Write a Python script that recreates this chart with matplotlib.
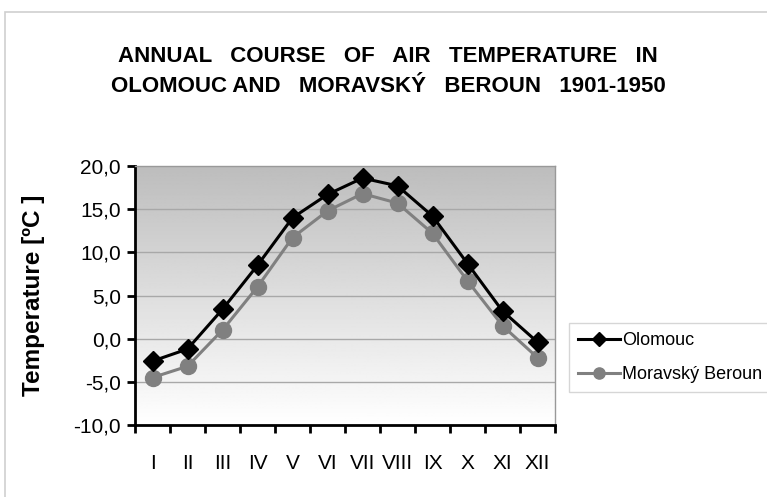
import matplotlib
matplotlib.use("Agg")
import matplotlib.pyplot as plt
import numpy as np
from matplotlib.patches import Rectangle

months = ["I", "II", "III", "IV", "V", "VI", "VII", "VIII", "IX", "X", "XI", "XII"]
olomouc = [-2.6, -1.2, 3.4, 8.5, 14.0, 16.7, 18.6, 17.7, 14.2, 8.7, 3.2, -0.4]
beroun = [-4.5, -3.2, 1.0, 6.0, 11.7, 14.8, 16.8, 15.7, 12.2, 6.7, 1.5, -2.2]
yticks = [-10, -5, 0, 5, 10, 15, 20]

plt.rcParams['font.family'] = ['Liberation Sans', 'DejaVu Sans']

fig = plt.figure(figsize=(7.67, 4.97), dpi=100)
W, H = 767, 497

# outer chart border
fig.patches.append(Rectangle((5 / W, -0.1), 1.2, 1 - 12 / H + 0.1, transform=fig.transFigure,
                             fill=False, edgecolor='#cfcfcf', linewidth=1.2))

ax = fig.add_axes([135 / W, 1 - 425 / H, (555 - 135) / W, (425 - 166) / H])

x = np.arange(1, len(months) + 1)
ax.set_xlim(0.5, 12.5)
ax.set_ylim(-10, 20)

# gradient background
grad = np.linspace(1.0, 0.74, 256).reshape(-1, 1)
ax.imshow(grad, extent=[0.5, 12.5, -10, 20], origin='lower', aspect='auto',
          cmap='gray', vmin=0, vmax=1, zorder=0)

for yv in yticks[1:-1]:
    ax.axhline(yv, color='#a8a8a8', linewidth=1.0, zorder=1)

ax.plot(x, olomouc, color='black', linewidth=2.2, marker='D', markersize=10,
        label='Olomouc', zorder=4)
ax.plot(x, beroun, color='#808080', linewidth=2.2, marker='o', markersize=11.5,
        label='Moravský Beroun', zorder=3)

ax.set_yticks(yticks)
ax.set_yticklabels([f"{v:.1f}".replace('.', ',') for v in yticks], fontsize=15)
ax.set_xticks(np.arange(0.5, 13, 1))
ax.set_xticklabels([])
ax.set_xticks(x, minor=True)
ax.set_xticklabels(months, minor=True, fontsize=15)
ax.tick_params(axis='x', which='major', direction='out', length=6, width=2)
ax.tick_params(axis='x', which='minor', length=0, pad=21)
ax.tick_params(axis='y', direction='out', length=6, width=2, pad=4)

for s in ['left', 'bottom']:
    ax.spines[s].set_linewidth(2)
    ax.spines[s].set_color('black')
for s in ['top', 'right']:
    ax.spines[s].set_linewidth(1)
    ax.spines[s].set_color('#999999')

ax.set_ylabel('Temperature [ºC ]', fontsize=17.5, fontweight='bold')
ax.yaxis.set_label_coords((45 - 135) / 420, 0.5)

fig.text(388 / W, 1 - 56 / H, 'ANNUAL   COURSE   OF   AIR   TEMPERATURE   IN',
         ha='center', va='center', fontsize=16, fontweight='bold')
fig.text(388 / W, 1 - 86 / H, 'OLOMOUC AND   MORAVSKÝ   BEROUN   1901-1950',
         ha='center', va='center', fontsize=16, fontweight='bold')

leg = fig.legend(loc='upper left', bbox_to_anchor=(569 / W, 1 - 323 / H),
                 borderaxespad=0, fontsize=13, frameon=True, fancybox=False,
                 edgecolor='#cccccc', handlelength=2.3, handletextpad=0.15,
                 labelspacing=0.95, borderpad=0.5, markerscale=0.7)
leg.get_frame().set_linewidth(1)

fig.savefig('out.png', dpi=100)
